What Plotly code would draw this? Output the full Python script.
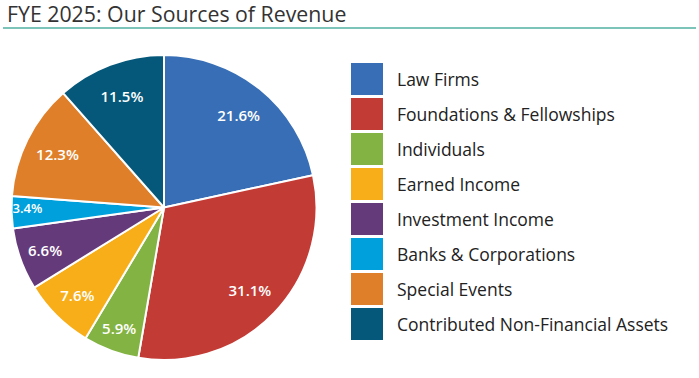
import plotly.graph_objects as go

categories = ["Law Firms", "Foundations & Fellowships", "Individuals", "Earned Income",
              "Investment Income", "Banks & Corporations", "Special Events",
              "Contributed Non-Financial Assets"]
shares = [21.6, 31.1, 5.9, 7.6, 6.6, 3.4, 12.3, 11.5]
colors = ["#376eb5", "#c33b35", "#83b342", "#f8ae19", "#653a7b", "#00a0dc", "#e07f2a", "#05587a"]
title_text = "FYE 2025: Our Sources of Revenue"

W, H = 699, 378
cx, cy, r = 164, 207.5, 152.5
dom = dict(x=[(cx - r) / W, (cx + r) / W], y=[1 - (cy + r) / H, 1 - (cy - r) / H])

fig = go.Figure()
fig.add_trace(go.Pie(
    labels=categories, values=shares, sort=False, direction="clockwise", rotation=0,
    marker=dict(colors=colors, line=dict(color="white", width=2)),
    textinfo="none", showlegend=False, hoverinfo="label+value", domain=dom,
))
# transparent ring carrying the percentage labels near the outer edge
fig.add_trace(go.Pie(
    labels=categories, values=shares, sort=False, direction="clockwise", rotation=0,
    hole=0.56,
    marker=dict(colors=["rgba(0,0,0,0)"] * len(shares), line=dict(width=0)),
    texttemplate="%{value:.1f}%", textposition="inside", insidetextorientation="horizontal",
    textfont=dict(family="Open Sans", size=15, color="white", weight=600),
    showlegend=False, hoverinfo="skip", domain=dom,
))

shapes = [dict(type="line", xref="paper", yref="paper", x0=3 / W, x1=696 / W,
               y0=1 - 28 / H, y1=1 - 28 / H, line=dict(color="#7cc3ba", width=2.2))]
annotations = [dict(text=title_text, xref="paper", yref="paper", x=5 / W, y=1 - 14 / H,
                    xanchor="left", yanchor="middle", showarrow=False,
                    font=dict(family="Open Sans", size=21.3, color="#333333"))]

top0, pitch, sw = 63, 35, 32
for i, (lab, col) in enumerate(zip(categories, colors)):
    t = top0 + i * pitch
    shapes.append(dict(type="rect", xref="paper", yref="paper", x0=351 / W, x1=383 / W,
                       y0=1 - (t + sw) / H, y1=1 - t / H, fillcolor=col,
                       line=dict(width=0)))
    annotations.append(dict(text=lab, xref="paper", yref="paper", x=395 / W,
                            y=1 - (t + sw / 2) / H, xanchor="left", yanchor="middle",
                            showarrow=False,
                            font=dict(family="Open Sans", size=17.5, color="#222222")))

fig.update_layout(width=W, height=H, margin=dict(l=0, r=0, t=0, b=0),
                  paper_bgcolor="white", plot_bgcolor="white",
                  shapes=shapes, annotations=annotations)
fig.write_html("out.html", config={"displayModeBar": False},
               post_script="document.body.style.margin='0px';")
